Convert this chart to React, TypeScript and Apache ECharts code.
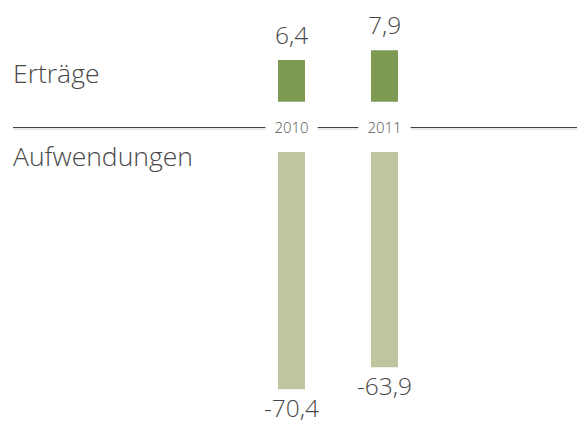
import React, { useEffect, useRef } from "react";
import * as echarts from "echarts";

const years = ["2010", "2011"];
const ertraege = [6.4, 7.9];
const aufwendungen = [-70.4, -63.9];
const rowLabels = ["Erträge", "Aufwendungen"];

const FONT = "'Open Sans', 'Noto Sans', sans-serif";
const fmt = (v: number) => String(v).replace(".", ",");

export default function App() {
  const ref = useRef<HTMLDivElement>(null);
  useEffect(() => {
    if (!ref.current) return;
    const chart = echarts.init(ref.current, undefined, { renderer: "svg" });
    chart.setOption({
      animation: false,
      backgroundColor: "#ffffff",
      grid: [
        { left: 245, width: 186, top: 36.7, height: 65 },
        { left: 245, width: 186, top: 152, height: 269.6 },
      ],
      xAxis: [
        {
          type: "category",
          gridIndex: 0,
          data: years,
          z: 10,
          axisLine: { show: false },
          axisTick: { show: false },
          axisLabel: {
            margin: 18,
            fontSize: 15,
            fontFamily: FONT,
            fontWeight: 300,
            color: "#555",
            backgroundColor: "#ffffff",
            padding: [0, 9],
          },
        },
        {
          type: "category",
          gridIndex: 1,
          data: years,
          show: false,
        },
      ],
      yAxis: [
        { type: "value", gridIndex: 0, min: 0, max: 10, show: false },
        { type: "value", gridIndex: 1, min: -80, max: 0, show: false },
      ],
      graphic: [
        {
          type: "line",
          z: 0,
          shape: { x1: 13, y1: 127.5, x2: 577, y2: 127.5 },
          style: { stroke: "#444", lineWidth: 1.2 },
        },
        {
          type: "line",
          z: 0,
          shape: { x1: 13, y1: 129, x2: 577, y2: 129 },
          style: { stroke: "#d0d0d0", lineWidth: 1 },
        },
        {
          type: "text",
          left: 13,
          top: 59,
          style: { text: rowLabels[0], fontSize: 26.5, fontFamily: FONT, fontWeight: 300, fill: "#484848" },
        },
        {
          type: "text",
          left: 13,
          top: 142,
          style: { text: rowLabels[1], fontSize: 26.5, fontFamily: FONT, fontWeight: 300, fill: "#484848" },
        },
      ],
      series: [
        {
          type: "bar",
          xAxisIndex: 0,
          yAxisIndex: 0,
          data: ertraege,
          barWidth: 27,
          itemStyle: { color: "#7e9a52" },
          label: {
            show: true,
            position: "top",
            distance: 13,
            fontSize: 24.5,
            fontFamily: FONT,
            fontWeight: 300,
            color: "#484848",
            formatter: (p: any) => fmt(p.value),
          },
        },
        {
          type: "bar",
          xAxisIndex: 1,
          yAxisIndex: 1,
          data: aufwendungen,
          barWidth: 27,
          itemStyle: { color: "#bec6a0" },
          label: {
            show: true,
            position: "bottom",
            distance: 8,
            fontSize: 24.5,
            lineHeight: 20,
            fontFamily: FONT,
            fontWeight: 300,
            color: "#484848",
            formatter: (p: any) => fmt(p.value),
          },
        },
      ],
    });
    return () => chart.dispose();
  }, []);
  return (
    <div
      ref={ref}
      style={{ position: "absolute", left: 0, top: 0, width: 577, height: 425 }}
    />
  );
}
